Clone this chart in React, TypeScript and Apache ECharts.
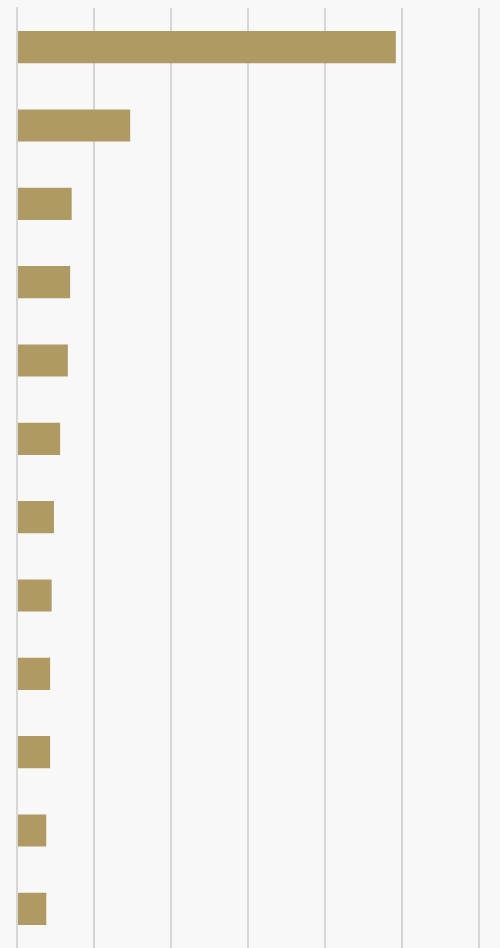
import React, { useEffect, useRef } from "react";
import * as echarts from "echarts";

const categories = ["A", "B", "C", "D", "E", "F", "G", "H", "I", "J", "K", "L"];
const values = [492, 147, 71, 69, 66, 56, 48, 45, 43, 43, 38, 38];
const axisMin = 0;
const axisMax = 600;
const axisInterval = 100;

export default function App() {
  const ref = useRef<HTMLDivElement>(null);
  useEffect(() => {
    if (!ref.current) return;
    const chart = echarts.init(ref.current, null, { renderer: "svg" });
    chart.setOption({
      animation: false,
      backgroundColor: "#f8f8f8",
      grid: { left: 17, right: 21, top: 8, bottom: 0, containLabel: false },
      xAxis: {
        type: "value",
        min: axisMin,
        max: axisMax,
        interval: axisInterval,
        axisLabel: { show: false },
        axisLine: { show: false },
        axisTick: { show: false },
        splitLine: { show: true, lineStyle: { color: "#d6d6d6", width: 2 } },
      },
      yAxis: {
        type: "category",
        data: categories,
        inverse: true,
        z: 3,
        axisLabel: { show: false },
        axisLine: { show: true, lineStyle: { color: "#d6d6d6", width: 2 } },
        axisTick: { show: false },
        splitLine: { show: false },
      },
      series: [
        {
          type: "bar",
          data: values,
          barWidth: "41%",
          itemStyle: { color: "#af9a64" },
        },
      ],
    });
    return () => chart.dispose();
  }, []);
  return (
    <div
      ref={ref}
      style={{ position: "fixed", left: 0, top: 0, width: 500, height: 948 }}
    />
  );
}
